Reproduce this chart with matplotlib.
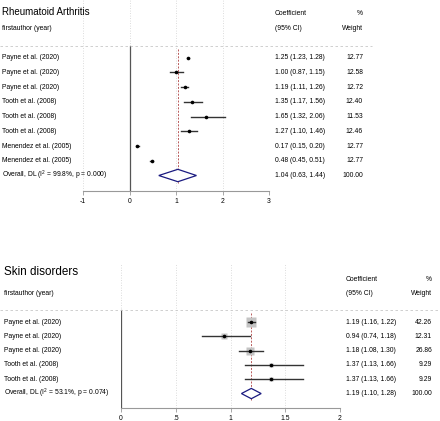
import numpy as np
import matplotlib
matplotlib.use("Agg")
import matplotlib.pyplot as plt
from matplotlib.transforms import blended_transform_factory

plt.rcParams['font.family'] = ['Liberation Sans', 'DejaVu Sans']
plt.rcParams['mathtext.default'] = 'regular'

# Rheumatoid Arthritis
ra_labels = ["Payne et al. (2020)", "Payne et al. (2020)", "Payne et al. (2020)",
             "Tooth et al. (2008)", "Tooth et al. (2008)", "Tooth et al. (2008)",
             "Menendez et al. (2005)", "Menendez et al. (2005)"]
ra_est = [1.25, 1.00, 1.19, 1.35, 1.65, 1.27, 0.17, 0.48]
ra_lo = [1.23, 0.87, 1.11, 1.17, 1.32, 1.10, 0.15, 0.45]
ra_hi = [1.28, 1.15, 1.26, 1.56, 2.06, 1.46, 0.20, 0.51]
ra_w = [12.77, 12.58, 12.72, 12.40, 11.53, 12.46, 12.77, 12.77]
ra_overall = (1.04, 0.63, 1.44)
ra_het = "Overall, DL (I$^2$ = 99.8%, p = 0.000)"
ra_ticks = [-1, 0, 1, 2, 3]
ra_ticklabels = ["-1", "0", "1", "2", "3"]

# Skin disorders
sk_labels = ["Payne et al. (2020)", "Payne et al. (2020)", "Payne et al. (2020)",
             "Tooth et al. (2008)", "Tooth et al. (2008)"]
sk_est = [1.19, 0.94, 1.18, 1.37, 1.37]
sk_lo = [1.16, 0.74, 1.08, 1.13, 1.13]
sk_hi = [1.22, 1.18, 1.30, 1.66, 1.66]
sk_w = [42.26, 12.31, 26.86, 9.29, 9.29]
sk_overall = (1.19, 1.10, 1.28)
sk_het = "Overall, DL (I$^2$ = 53.1%, p = 0.074)"
sk_ticks = [0, 0.5, 1, 1.5, 2]
sk_ticklabels = ["0", ".5", "1", "1.5", "2"]

W, H = 440, 421
fig = plt.figure(figsize=(W / 100, H / 100), dpi=100)
fig.patch.set_facecolor("white")

fs = 4.9
navy = "#1a1a80"
red = "#b85a5a"


def panel(box, ylim, title, title_y, title_fs, labels, est, lo, hi, w, overall,
          het, ticks, ticklabels, xlim, text_x, line_end, box_max, dia_h, dash_y):
    x0, y0, x1, y1 = box
    ax = fig.add_axes([x0 / W, 1 - y1 / H, (x1 - x0) / W, (y1 - y0) / H])
    ax.set_xlim(*xlim)
    ax.set_ylim(*ylim)
    for s in ["top", "right", "left"]:
        ax.spines[s].set_visible(False)
    ax.spines["bottom"].set_color("#999999")
    ax.spines["bottom"].set_linewidth(0.8)
    ax.set_yticks([])
    ax.set_xticks(ticks)
    ax.set_xticklabels(ticklabels, fontsize=fs)
    ax.tick_params(axis="x", length=3, width=0.6, color="#999999", pad=2)
    for t in ticks:
        ax.axvline(t, color="#d0d0d0", lw=0.6, ls=(0, (1, 2)), zorder=0)

    n = len(labels)
    rows = np.arange(1, n + 1)
    tr = blended_transform_factory(fig.transFigure, ax.transData)

    # header
    ax.text(text_x[0] / W, title_y, title, transform=tr, fontsize=title_fs,
            va="center", ha="left")
    ax.text(text_x[0] / W, -1, "firstauthor (year)", transform=tr, fontsize=fs,
            va="center", ha="left")
    ax.text(text_x[1] / W, -2, "Coefficient", transform=tr, fontsize=fs, va="center")
    ax.text(text_x[1] / W, -1, "(95% CI)", transform=tr, fontsize=fs, va="center")
    ax.text(text_x[2] / W, -2, "%", transform=tr, fontsize=fs, va="center", ha="right")
    ax.text(text_x[2] / W, -1, "Weight", transform=tr, fontsize=fs, va="center", ha="right")
    ax.plot([0, line_end / W], [dash_y, dash_y], transform=tr, color="#c8c8c8",
            lw=0.6, ls=(0, (3, 3)), clip_on=False)

    # null line and overall line
    ax.plot([0, 0], [dash_y, ylim[0]], color="#555555", lw=0.9, zorder=1)
    ax.plot([overall[0]] * 2, [dash_y + 0.2, n + 1.5], color=red, lw=0.7,
            ls=(0, (2, 1.5)), zorder=2)

    # studies
    wmax = max(w)
    for r, lab, e, l, h, ww in zip(rows, labels, est, lo, hi, w):
        ax.text(text_x[0] / W, r, lab, transform=tr, fontsize=fs, va="center")
        ax.text(text_x[1] / W, r, f"{e:.2f} ({l:.2f}, {h:.2f})", transform=tr,
                fontsize=fs, va="center")
        ax.text(text_x[2] / W, r, f"{ww:.2f}", transform=tr, fontsize=fs,
                va="center", ha="right")
        if box_max > 0:
            ax.plot(e, r, marker="s", ms=box_max * np.sqrt(ww / wmax),
                    color="#c4c4c4", mec="none", zorder=3)
        ax.plot([l, h], [r, r], color="#333333", lw=1.0, zorder=4)
        ax.plot(e, r, marker="o", ms=2.6, color="black", mec="none", zorder=5)

    # overall diamond
    ro = n + 1
    oe, ol, oh = overall
    ax.fill([ol, oe, oh, oe, ol], [ro, ro - dia_h, ro, ro + dia_h, ro],
            facecolor="white", edgecolor=navy, lw=0.9, zorder=4)
    ax.text(text_x[0] / W, ro, het, transform=tr, fontsize=fs, va="center")
    ax.text(text_x[1] / W, ro, f"{oe:.2f} ({ol:.2f}, {oh:.2f})", transform=tr,
            fontsize=fs, va="center")
    ax.text(text_x[2] / W, ro, "100.00", transform=tr, fontsize=fs,
            va="center", ha="right")
    return ax


panel((83, 0, 269, 191), (10.05, -2.9), "Rheumatoid Arthritis", -2.08, 7.0,
      ra_labels, ra_est, ra_lo, ra_hi, ra_w, ra_overall, ra_het, ra_ticks,
      ra_ticklabels, (-1, 3), (2, 275, 363), 372, 0, 0.42, 0.22)

panel((121, 263, 340, 408), (7.01, -3.13), "Skin disorders", -2.5, 8.4,
      sk_labels, sk_est, sk_lo, sk_hi, sk_w, sk_overall, sk_het, sk_ticks,
      sk_ticklabels, (0, 2), (4, 346, 432), 440, 7.0, 0.36, 0.16)

fig.savefig("out.png", dpi=100, facecolor="white")
